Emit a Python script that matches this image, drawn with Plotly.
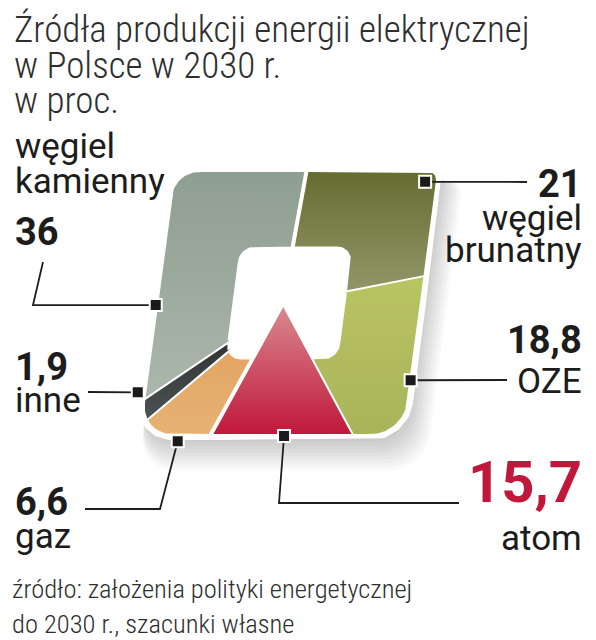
import numpy as np
import plotly.graph_objects as go

# ---------------- data ----------------
categories = ["węgiel brunatny", "OZE", "atom", "gaz", "inne", "węgiel kamienny"]
values = [21, 18.8, 15.7, 6.6, 1.9, 36]
value_labels = ["21", "18,8", "15,7", "6,6", "1,9", "36"]
name_lines = [["węgiel", "brunatny"], ["OZE"], ["atom"], ["gaz"], ["inne"], ["węgiel", "kamienny"]]
title_lines = ["Źródła produkcji energii elektrycznej", "w Polsce w 2030 r.", "w proc."]
source_lines = ["źródło: założenia polityki energetycznej", "do 2030 r., szacunki własne"]

# ---------------- style ----------------
W, H = 596, 640
CX, CY, S, K = 289, 303, 133, 0.13          # centre (px), px per unit, skew
START = 87                                   # start angle of the first slice (deg)
PIE_O = (-0.05, -0.015)                      # pie centre relative to box centre (units)
OUTER_R = (0.08, 0.25, 0.25, 0.19)          # corner radii tr, br, bl, tl
HOLE_HALF, HOLE_R = 0.41, 0.1
top_cols = ["#666c30", "#b9c462", "#d98a8e", "#e3a563", "#2f3333", "#8e9e90"]
bot_cols = ["#939769", "#a9b35a", "#c0163a", "#e6b273", "#4d5252", "#abb7ab"]
clip_hole = [True, True, False, True, True, True]
anchor_ang = [45.2, -30.4, -84.7, -124, -147.4, 180.9]
anchor_fac = [0.93, 0.99, 1.0, 1.04, 1.05, 1.0]
leader_pts = [[(527, 182)], [(507, 380)], [(279, 503), (459, 503)],
              [(160, 509), (85, 509)], [(88, 392)], [(33, 305), (43, 262)]]


def sd_box(px, py, half, radii):
    tr, br, bl, tl = radii
    r = np.where(px > 0, np.where(py > 0, tr, br), np.where(py > 0, tl, bl))
    qx = np.abs(px) - half + r
    qy = np.abs(py) - half + r
    return np.hypot(np.maximum(qx, 0), np.maximum(qy, 0)) + np.minimum(np.maximum(qx, qy), 0) - r


def ray_r(theta_deg, half, radii, origin=(0.0, 0.0)):
    th = np.radians(np.atleast_1d(theta_deg).astype(float))
    c, s = np.cos(th), np.sin(th)
    lo = np.zeros_like(th)
    hi = np.full_like(th, half * 2.5)
    for _ in range(50):
        mid = (lo + hi) / 2
        inside = sd_box(origin[0] + mid * c, origin[1] + mid * s, half, radii) < 0
        lo = np.where(inside, mid, lo)
        hi = np.where(inside, hi, mid)
    return lo


def to_px(u, v):
    X = CX + S * (np.asarray(u) + K * np.asarray(v))
    Ypx = CY - S * np.asarray(v)
    return X, H - Ypx


def boundary(thetas, half, radii, origin=(0.0, 0.0)):
    r = ray_r(thetas, half, radii, origin)
    th = np.radians(thetas)
    return origin[0] + r * np.cos(th), origin[1] + r * np.sin(th)


fig = go.Figure()

# shadow
full = np.linspace(0, 360, 721)
ou, ov = boundary(full, 1.0, OUTER_R)
for i in range(9):
    sc = 1.0 + 0.01 * i
    X, Y = to_px(ou * sc, ov * sc)
    fig.add_trace(go.Scatter(x=X + 2 + 1.2 * i, y=Y - 6 - 2.2 * i, fill="toself", mode="none",
                             fillcolor="rgba(0,0,0,0.024)", hoverinfo="skip", showlegend=False))
# white rim
X, Y = to_px(ou, ov)
fig.add_trace(go.Scatter(x=X, y=Y, fill="toself", mode="lines", fillcolor="white",
                         line=dict(color="white", width=8), hoverinfo="skip", showlegend=False))

# slices
total = sum(values)
bounds = [START]
for v in values:
    bounds.append(bounds[-1] - 360 * v / total)

order = [0, 1, 3, 4, 5, 2]  # draw atom last (on top)
for i in order:
    a, b = bounds[i], bounds[i + 1]
    n = max(3, int((a - b) / 0.4) + 1)
    th = np.linspace(a, b, n)
    u1, v1 = boundary(th, 1.0, OUTER_R, PIE_O)
    if clip_hole[i]:
        u2, v2 = boundary(th[::-1], HOLE_HALF, (HOLE_R,) * 4, PIE_O)
    else:
        u2, v2 = np.array([PIE_O[0]]), np.array([PIE_O[1]])
    u = np.concatenate([u1, u2])
    v = np.concatenate([v1, v2])
    X, Y = to_px(u, v)
    fig.add_trace(go.Scatter(
        x=X, y=Y, fill="toself", mode="lines", line=dict(color="white", width=4),
        fillgradient=dict(type="vertical", colorscale=[[0, bot_cols[i]], [1, top_cols[i]]]),
        name=categories[i], hoverinfo="name", showlegend=False))

# leaders & squares
ax, ay = [], []
for i in range(len(values)):
    r = ray_r(anchor_ang[i], 1.0, OUTER_R)[0] * anchor_fac[i]
    t = np.radians(anchor_ang[i])
    X, Y = to_px(r * np.cos(t), r * np.sin(t))
    X, Y = float(X), float(Y)
    xs = [X] + [p[0] for p in leader_pts[i]]
    ys = [Y] + [H - p[1] for p in leader_pts[i]]
    fig.add_trace(go.Scatter(x=xs, y=ys, mode="lines", line=dict(color="#1e1e1e", width=1.8),
                             hoverinfo="skip", showlegend=False))
    ax.append(X)
    ay.append(Y)
fig.add_trace(go.Scatter(x=ax, y=ay, mode="markers",
                         marker=dict(symbol="square", size=12, color="#1b1b1b",
                                     line=dict(color="white", width=2)),
                         hoverinfo="skip", showlegend=False))

# texts
anns = []


def txt(x, base, s, size, family, color, anchor, weight=400):
    yc = base - 0.342 * size
    anns.append(dict(x=x, y=H - yc, xref="x", yref="y", xanchor=anchor, yanchor="middle",
                     text=s, showarrow=False, borderpad=0,
                     font=dict(family=family, size=size, color=color, weight=weight)))


TF = "Roboto Condensed"
LF = "Roboto"
DARK = "#1c1c1c"
for s, b in zip(title_lines, [42, 78, 113]):
    txt(13, b, s, 37, TF, "#2e2e2e", "left", 300)
for s, b in zip(source_lines, [598, 633]):
    txt(11, b, s, 26.5, TF, "#2e2e2e", "left", 300)

# label layout: (x, anchor, number baseline, name baselines, number size)
lab = {
    0: (583, "right", 197, [230, 262], 38),
    1: (583, "right", 353, [393], 38),
    2: (583, "right", 502, [550], 58),
    3: (14, "left", 515, [548], 38),
    4: (14, "left", 380, [412], 38),
    5: (14, "left", 245, [158, 193], 38),
}
for i, (x, anc, nb, nbs, ns) in lab.items():
    col = "#c0183a" if i == 2 else DARK
    txt(x, nb, value_labels[i], ns, LF, col, anc, 700)
    for s, b in zip(name_lines[i], nbs):
        txt(x, b, s, 35, LF, DARK, anc, 400)

fig.update_layout(width=W, height=H, margin=dict(l=0, r=0, t=0, b=0), annotations=anns,
                  xaxis=dict(range=[0, W], visible=False, fixedrange=True),
                  yaxis=dict(range=[0, H], visible=False, fixedrange=True),
                  plot_bgcolor="white", paper_bgcolor="white")
fig.write_html("out.html", config={"displayModeBar": False},
               post_script="document.body.style.margin='0';document.body.style.overflow='hidden';")
